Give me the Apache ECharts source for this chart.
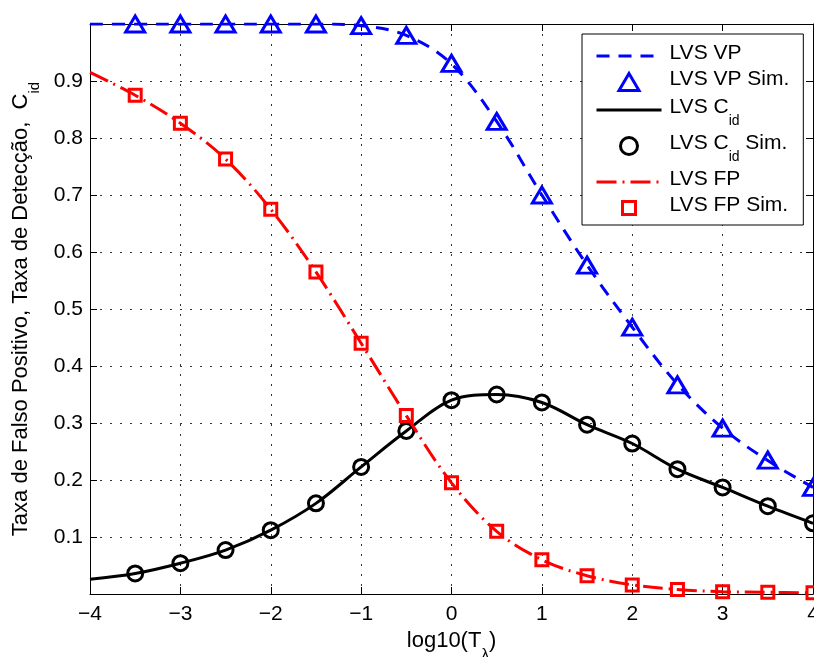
<!DOCTYPE html>
<html>
<head>
<meta charset="utf-8">
<script src="https://cdn.jsdelivr.net/npm/echarts@6/dist/echarts.min.js"></script>
<style>
html, body { margin: 0; padding: 0; background: #fff; }
#chart { width: 814px; height: 657px; }
</style>
</head>
<body>
<div id="chart"></div>
<script>
// curves (analytic model), every 0.5
var xLine = [-4, -3.5, -3, -2.5, -2, -1.5, -1, -0.5, 0, 0.5, 1, 1.5, 2, 2.5, 3, 3.5, 4];
var vpLine = [1.0, 1.0, 1.0, 1.0, 1.0, 1.0, 0.997, 0.98, 0.93, 0.829, 0.70, 0.577, 0.468, 0.368, 0.291, 0.234, 0.187];
var cidLine = [0.026, 0.036, 0.054, 0.077, 0.112, 0.159, 0.223, 0.286, 0.340, 0.350, 0.336, 0.297, 0.264, 0.219, 0.187, 0.154, 0.124];
var fpLine = [0.915, 0.875, 0.826, 0.763, 0.675, 0.565, 0.44, 0.313, 0.195, 0.11, 0.06, 0.032, 0.016, 0.008, 0.004, 0.003, 0.002];

// simulation points
var xSim = [-3.5, -3, -2.5, -2, -1.5, -1, -0.5, 0, 0.5, 1, 1.5, 2, 2.5, 3, 3.5, 4];
var vpSim = [1.0, 1.0, 1.0, 1.0, 1.0, 0.997, 0.98, 0.931, 0.829, 0.70, 0.577, 0.468, 0.367, 0.291, 0.235, 0.187];
var cidSim = [0.036, 0.054, 0.077, 0.112, 0.159, 0.223, 0.286, 0.340, 0.350, 0.336, 0.297, 0.264, 0.219, 0.187, 0.154, 0.124];
var fpSim = [0.875, 0.826, 0.763, 0.675, 0.565, 0.44, 0.313, 0.195, 0.11, 0.06, 0.032, 0.016, 0.008, 0.004, 0.003, 0.002];

var font = "'Liberation Sans', Arial, sans-serif";
var blue = '#0000ff', red = '#ff0000', black = '#000000';

function pairs(xs, ys) {
  return xs.map(function (x, i) { return [x, ys[i]]; });
}

// subscript text: n = normal, s = subscript
var rich = {
  n: { fontSize: 21, fontFamily: font, color: black, lineHeight: 26, verticalAlign: 'top' },
  s: { fontSize: 14, fontFamily: font, color: black, lineHeight: 16, verticalAlign: 'top', padding: [17, 0, 0, 0] }
};
var nameRich = {
  n: { fontSize: 22, fontFamily: font, color: black, lineHeight: 26, verticalAlign: 'top' },
  s: { fontSize: 15, fontFamily: font, color: black, lineHeight: 16, verticalAlign: 'top', padding: [17, 0, 0, 0] }
};

// line entries in the legend: hide the dot, keep the stroke
var noDot = { color: 'rgba(0,0,0,0)', borderWidth: 0, opacity: 0 };

var myChart = echarts.init(document.getElementById('chart'));
var option = {
  animation: false,
  backgroundColor: '#fff',
  grid: { left: 90, top: 24, right: 1, bottom: 63, outerBoundsMode: 'none', containLabel: false },
  legend: {
    orient: 'vertical',
    left: 582,
    top: 34,
    padding: [9, 14, 7, 13],
    itemGap: 5,
    itemWidth: 65,
    itemHeight: 17,
    symbolKeepAspect: true,
    backgroundColor: '#fff',
    borderColor: black,
    borderWidth: 1,
    borderRadius: 0,
    lineStyle: { width: 3 },
    itemStyle: { borderWidth: 3 },
    textStyle: { fontSize: 21, fontFamily: font, color: black, padding: [0, 0, 0, 3], rich: rich },
    formatter: function (name) {
      if (name === 'LVS Cid') return '{n|LVS C}{s|id}';
      if (name === 'LVS Cid Sim.') return '{n|LVS C}{s|id}{n| Sim.}';
      return '{n|' + name + '}';
    },
    data: [
      { name: 'LVS VP', itemStyle: noDot },
      { name: 'LVS VP Sim.', icon: 'path://M10,0 L20,17 L0,17 Z' },
      { name: 'LVS Cid', itemStyle: noDot },
      { name: 'LVS Cid Sim.' },
      { name: 'LVS FP', itemStyle: noDot },
      { name: 'LVS FP Sim.', icon: 'path://M-2,-2 M0,0 L13,0 L13,13 L0,13 Z M15,15' }
    ]
  },
  xAxis: [
    {
      type: 'value', min: -4, max: 4, interval: 1, position: 'bottom',
      axisLine: { onZero: false, lineStyle: { color: black, width: 1 } },
      axisTick: { inside: true, length: 7, lineStyle: { color: black } },
      axisLabel: {
        color: black, fontSize: 21, fontFamily: font, margin: 10,
        formatter: function (v) { return v < 0 ? '\u2212' + Math.abs(v) : String(v); }
      },
      splitLine: { show: true, lineStyle: { color: '#333', width: 1, type: [2, 8] } },
      name: '{n|log10(T}{s|\u03bb}{n|)}',
      nameLocation: 'middle',
      nameGap: 30,
      nameTextStyle: { rich: nameRich }
    },
    {
      type: 'value', min: -4, max: 4, interval: 1, position: 'top',
      axisLine: { onZero: false, lineStyle: { color: black, width: 1 } },
      axisTick: { inside: true, length: 7, lineStyle: { color: black } },
      axisLabel: { show: false },
      splitLine: { show: false }
    }
  ],
  yAxis: [
    {
      type: 'value', min: 0, max: 1, interval: 0.1, position: 'left',
      axisLine: { show: true, onZero: false, lineStyle: { color: black, width: 1 } },
      axisTick: { show: true, inside: true, length: 7, lineStyle: { color: black } },
      axisLabel: {
        color: black, fontSize: 21, fontFamily: font, margin: 7,
        showMinLabel: false, showMaxLabel: false,
        formatter: function (v) { return v.toFixed(1); }
      },
      splitLine: { show: true, lineStyle: { color: '#333', width: 1, type: [2, 8] } },
      name: '{n|Taxa de Falso Positivo, Taxa de Detec\u00e7\u00e3o,  C}{s|id}',
      nameLocation: 'middle',
      nameGap: 54,
      nameTextStyle: { rich: nameRich }
    },
    {
      type: 'value', min: 0, max: 1, interval: 0.1, position: 'right',
      axisLine: { show: true, onZero: false, lineStyle: { color: black, width: 1 } },
      axisTick: { show: true, inside: true, length: 7, lineStyle: { color: black } },
      axisLabel: { show: false },
      splitLine: { show: false }
    }
  ],
  series: [
    {
      name: 'LVS VP', type: 'line', data: pairs(xLine, vpLine),
      smooth: 0.35, symbol: 'none',
      itemStyle: { color: blue },
      lineStyle: { color: blue, width: 3, type: [13, 9] }
    },
    {
      name: 'LVS VP Sim.', type: 'scatter', data: pairs(xSim, vpSim),
      symbol: 'triangle', symbolSize: [19, 16], clip: false,
      itemStyle: { color: 'rgba(0,0,0,0)', borderColor: blue, borderWidth: 3, opacity: 1 }
    },
    {
      name: 'LVS Cid', type: 'line', data: pairs(xLine, cidLine),
      smooth: 0.35, symbol: 'none',
      itemStyle: { color: black },
      lineStyle: { color: black, width: 3, type: 'solid' }
    },
    {
      name: 'LVS Cid Sim.', type: 'scatter', data: pairs(xSim, cidSim),
      symbol: 'circle', symbolSize: 15, clip: false,
      itemStyle: { color: 'rgba(0,0,0,0)', borderColor: black, borderWidth: 3, opacity: 1 }
    },
    {
      name: 'LVS FP', type: 'line', data: pairs(xLine, fpLine),
      smooth: 0.35, symbol: 'none',
      itemStyle: { color: red },
      lineStyle: { color: red, width: 3, type: [20, 6, 2, 6] }
    },
    {
      name: 'LVS FP Sim.', type: 'scatter', data: pairs(xSim, fpSim),
      symbol: 'rect', symbolSize: 12, clip: false,
      itemStyle: { color: 'rgba(0,0,0,0)', borderColor: red, borderWidth: 3, opacity: 1 }
    }
  ]
};
myChart.setOption(option);
</script>
</body>
</html>
